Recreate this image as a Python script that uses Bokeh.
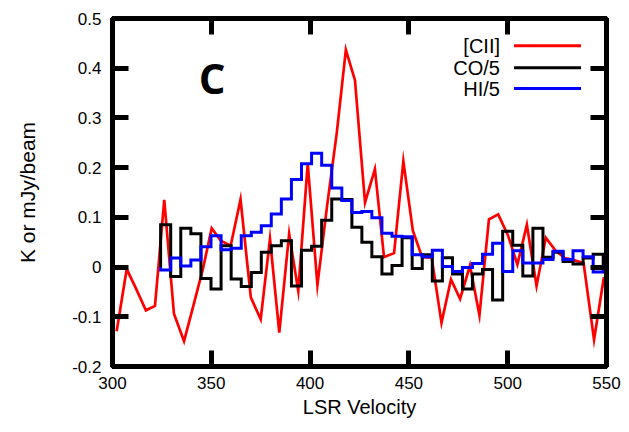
import numpy as np
from bokeh.plotting import figure
from bokeh.models import LinearAxis, FixedTicker, Label, Range1d, CustomLabelingPolicy
from bokeh.embed import file_html
from bokeh.resources import INLINE

# ---------------- data ----------------
cii_vel = [302.1, 307.2, 312.1, 316.9, 321.5, 326.2, 331.1, 336.2, 341.1, 345.8,
           350.2, 354.8, 359.8, 364.8, 370.0, 375.0, 379.7, 384.4, 389.4, 394.0,
           398.8, 403.7, 408.5, 413.5, 418.1, 422.7, 427.8, 432.8, 437.4, 442.5,
           447.2, 452.0, 456.7, 461.5, 466.5, 471.3, 475.9, 480.9, 485.7, 490.5,
           495.2, 500.2, 504.9, 509.7, 514.6, 519.3, 524.0, 528.9, 533.5, 538.4,
           543.7, 548.7]
cii_val = [-0.129, -0.004, -0.045, -0.087, -0.078, 0.135, -0.094, -0.149, -0.075, -0.003,
           0.078, 0.053, 0.043, 0.136, -0.061, -0.105, 0.057, -0.132, 0.067, -0.048,
           0.208, -0.036, 0.120, 0.270, 0.437, 0.376, 0.130, 0.197, 0.020, 0.028,
           0.213, 0.073, 0.020, 0.019, -0.112, -0.025, -0.064, 0.003, -0.097, 0.096,
           0.106, 0.063, 0.005, 0.085, -0.038, 0.059, 0.034, 0.018, 0.014, 0.008,
           -0.146, -0.020]

bin_vel = [326.9, 332.0, 337.1, 342.2, 347.3, 352.4, 357.5, 362.6, 367.7, 372.8,
           377.8, 382.9, 388.0, 393.1, 398.2, 403.3, 408.4, 413.5, 418.6, 423.7,
           428.7, 433.8, 438.9, 444.0, 449.1, 454.2, 459.3, 464.4, 469.5, 474.6,
           479.6, 484.7, 489.8, 494.9, 500.0, 505.1, 510.2, 515.3, 520.4, 525.5,
           530.5, 535.6, 540.7, 545.8]
co_val = [0.085, -0.019, 0.078, 0.067, -0.023, -0.044, 0.043, -0.024, -0.039, -0.011,
          0.030, 0.043, 0.053, -0.038, 0.034, 0.042, 0.094, 0.137, 0.136, 0.080,
          0.050, 0.021, -0.014, 0.003, 0.059, -0.003, 0.025, -0.028, 0.019, -0.014,
          -0.044, -0.014, -0.005, -0.066, 0.072, 0.044, -0.018, 0.078, 0.020, 0.030,
          0.011, 0.006, 0.018, 0.026]
hi_val = [-0.006, 0.018, 0.002, 0.014, 0.041, 0.063, 0.035, 0.038, 0.063, 0.070,
          0.083, 0.107, 0.137, 0.176, 0.208, 0.229, 0.205, 0.159, 0.134, 0.110,
          0.112, 0.099, 0.068, 0.062, 0.061, 0.025, 0.021, 0.034, 0.001, -0.009,
          -0.001, 0.007, 0.026, 0.048, -0.009, 0.033, 0.008, 0.008, 0.015, 0.032,
          0.015, 0.033, 0.021, -0.010]

series_names = ["[CII]", "CO/5", "HI/5"]
series_colors = ["#ff0000", "#000000", "#0000ff"]
x_ticks = [300, 350, 400, 450, 500, 550]
y_ticks = [-0.2, -0.1, 0.0, 0.1, 0.2, 0.3, 0.4, 0.5]
y_tick_labels = ["-0.2", "-0.1", "0", "0.1", "0.2", "0.3", "0.4", "0.5"]
panel_label = "C"
x_title = "LSR Velocity"
y_title = "K or mJy/beam"

# ---------------- layout / style ----------------
FONT = "Liberation Sans"
legend_rows_y = [0.445, 0.401, 0.359]
legend_text_x = 496.1
legend_line_x = (503.2, 537.1)


def histeps(centers, vals):
    """gnuplot-style histogram steps path (starts and ends on y=0)."""
    c = np.asarray(centers, dtype=float)
    v = np.asarray(vals, dtype=float)
    mids = (c[:-1] + c[1:]) / 2
    edges = np.concatenate([[c[0] - (c[1] - c[0]) / 2], mids, [c[-1] + (c[-1] - c[-2]) / 2]])
    xs = [edges[0]]
    ys = [0.0]
    for i in range(len(v)):
        xs += [edges[i], edges[i + 1]]
        ys += [v[i], v[i]]
    xs.append(edges[-1])
    ys.append(0.0)
    return xs, ys


p = figure(frame_width=494, frame_height=348,
           x_range=Range1d(300, 550), y_range=Range1d(-0.2, 0.5),
           output_backend="svg", toolbar_location=None,
           min_border_left=112, min_border_right=12,
           min_border_top=18, min_border_bottom=58,
           x_axis_label=x_title, y_axis_label=y_title)
p.xgrid.visible = False
p.ygrid.visible = False
p.outline_line_color = "black"
p.outline_line_width = 5
p.background_fill_color = "white"
p.border_fill_color = "white"

overrides = {t: s for t, s in zip(y_ticks, y_tick_labels)}


def style_axis(ax, show_labels):
    ax.axis_line_width = 5
    ax.axis_line_color = "black"
    ax.major_tick_in = 16
    ax.major_tick_out = 0
    ax.major_tick_line_width = 5
    ax.major_tick_line_color = "black"
    ax.minor_tick_line_color = None
    ax.major_label_text_font = FONT
    ax.major_label_text_color = "black"
    ax.axis_label_text_color = "black"
    if show_labels:
        ax.major_label_text_font_size = "17px"
    else:
        ax.major_label_policy = CustomLabelingPolicy(code="return new Set()")
        ax.major_label_standoff = 0


xa = p.xaxis[0]
xa.ticker = FixedTicker(ticks=x_ticks)
style_axis(xa, True)
xa.major_label_standoff = 10
xa.axis_label_text_font = FONT
xa.axis_label_text_font_size = "20px"
xa.axis_label_text_font_style = "normal"
xa.axis_label_standoff = 4

ya = p.yaxis[0]
ya.ticker = FixedTicker(ticks=y_ticks)
ya.major_label_overrides = overrides
style_axis(ya, True)
ya.major_label_standoff = 11
ya.axis_label_text_font = FONT
ya.axis_label_text_font_size = "21px"
ya.axis_label_text_font_style = "normal"
ya.axis_label_standoff = 30

top = LinearAxis(ticker=FixedTicker(ticks=x_ticks))
style_axis(top, False)
p.add_layout(top, "above")
right = LinearAxis(ticker=FixedTicker(ticks=y_ticks))
style_axis(right, False)
p.add_layout(right, "right")

# series: [CII] first, then CO/5, then HI/5 (gnuplot order)
p.line(cii_vel, cii_val, line_color=series_colors[0], line_width=2.7, line_join="miter")
cx, cy = histeps(bin_vel, co_val)
p.line(cx, cy, line_color=series_colors[1], line_width=3, line_join="miter")
hx, hy = histeps(bin_vel, hi_val)
p.line(hx, hy, line_color=series_colors[2], line_width=3, line_join="miter")

# key (labels on the left, line samples on the right, as gnuplot draws it)
p.segment(x0=[legend_line_x[0]] * 3, x1=[legend_line_x[1]] * 3,
          y0=legend_rows_y, y1=legend_rows_y, line_color=series_colors, line_width=3)
for name, yy in zip(series_names, legend_rows_y):
    p.add_layout(Label(x=legend_text_x, y=yy, text=name, text_align="right",
                       text_baseline="middle", text_font=FONT, text_font_size="20px",
                       text_color="black"))

p.add_layout(Label(x=350.4, y=0.381, text=panel_label, text_align="center",
                   text_baseline="middle", text_font="Open Sans", text_font_size="42px",
                   text_font_style="bold", text_color="black"))

open("out.html", "w").write(file_html(p, INLINE))
